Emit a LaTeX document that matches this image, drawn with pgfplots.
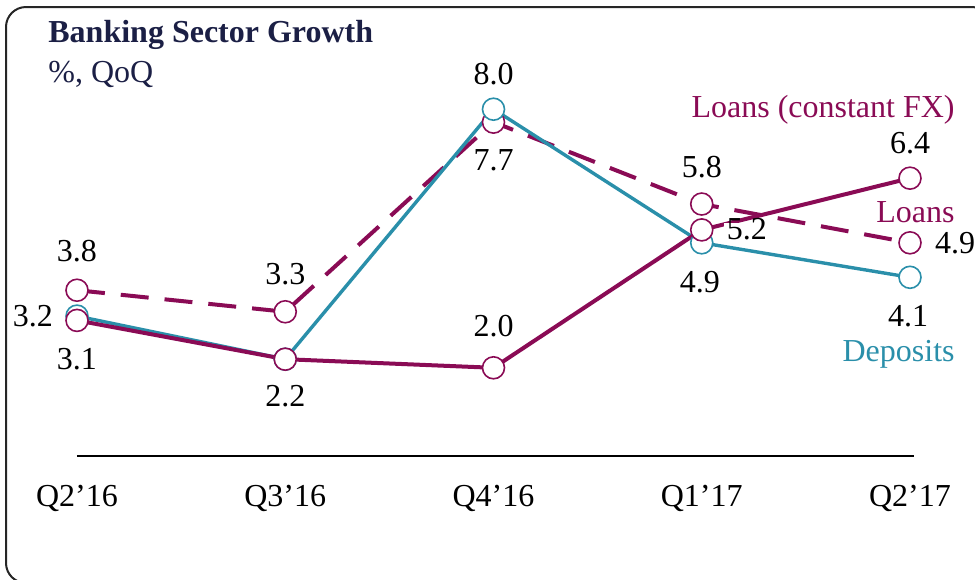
\documentclass[border=0pt]{standalone}
\usepackage{fontspec}
\setmainfont{Liberation Serif}
\usepackage{pgfplots}
\usepackage{pgfplotstable}
\pgfplotsset{compat=1.18}

\definecolor{loan}{HTML}{8A0B55}
\definecolor{dep}{HTML}{2A8FAA}
\definecolor{navy}{HTML}{1B1F45}

% x: 0 = Q2'16 ... 4 = Q2'17
\pgfplotstableread{
x loans fx dep
0 3.1 3.8 3.2
1 2.2 3.3 2.2
2 2.0 7.7 8.0
3 5.2 5.8 4.9
4 6.4 4.9 4.1
}\growth

\tikzset{val/.style={fill=white, inner xsep=1.5pt, inner ysep=1.5pt,
  text height=0.68em, text depth=0pt, text=black}}

\begin{document}
\begin{tikzpicture}[every node/.append style={font=\fontsize{16}{19}\selectfont}]
\path[use as bounding box, clip] (0,0) rectangle (487.5pt,-289.5pt);
\draw[line width=1pt, rounded corners=10pt, black!85] (3pt,-3.5pt) rectangle (496pt,-291.5pt);
\node[anchor=base west, inner sep=0pt, font=\fontsize{16}{19}\selectfont\bfseries, text=navy] at (24pt,-21pt) {Banking Sector Growth};
\node[anchor=base west, inner sep=0pt, text=navy] at (24pt,-41pt) {\%, QoQ};

\begin{axis}[
    at={(38.5pt,-227pt)}, anchor=origin,
    x=104.125pt, y=21.55pt,
    xmin=0, xmax=4.02, ymin=-0.05, ymax=9,
    hide y axis,
    axis x line*=bottom,
    x axis line style={-, line width=1pt, black},
    xtick={0,1,2,3,4},
    xticklabels={Q2'16,Q3'16,Q4'16,Q1'17,Q2'17},
    xtick style={draw=none},
    xticklabel style={anchor=base, yshift=-25pt, text=black},
    clip=false,
]
\addplot[loan, line width=2pt, dash pattern=on 14pt off 8pt,
  mark=*, mark size=5.5pt, mark options={solid, fill=white, draw=loan, line width=0.8pt}]
  table[x=x, y=fx] {\growth};
\addplot[dep, line width=1.7pt,
  mark=*, mark size=5.5pt, mark options={fill=white, draw=dep, line width=0.8pt}]
  table[x=x, y=dep] {\growth};
\addplot[loan, line width=2pt,
  mark=*, mark size=5.5pt, mark options={fill=white, draw=loan, line width=0.8pt}]
  table[x=x, y=loans] {\growth};

\node[val] at ([shift={(0pt,18pt)}]axis cs:0,3.8) {3.8};
\node[val] at ([shift={(-22pt,-2pt)}]axis cs:0,3.2) {3.2};
\node[val] at ([shift={(0pt,-21pt)}]axis cs:0,3.1) {3.1};
\node[val] at ([shift={(0pt,17pt)}]axis cs:1,3.3) {3.3};
\node[val] at ([shift={(0pt,-20.5pt)}]axis cs:1,2.2) {2.2};
\node[val] at ([shift={(0pt,16pt)}]axis cs:2,8.0) {8.0};
\node[val] at ([shift={(0pt,-21pt)}]axis cs:2,7.7) {7.7};
\node[val] at ([shift={(0pt,19pt)}]axis cs:2,2.0) {2.0};
\node[val] at ([shift={(0pt,16.5pt)}]axis cs:3,5.8) {5.8};
\node[val] at ([shift={(22.5pt,-1.5pt)}]axis cs:3,5.2) {5.2};
\node[val] at ([shift={(-1pt,-21.5pt)}]axis cs:3,4.9) {4.9};
\node[val] at ([shift={(0pt,15.5pt)}]axis cs:4,6.4) {6.4};
\node[val] at ([shift={(22.5pt,-2pt)}]axis cs:4,4.9) {4.9};
\node[val] at ([shift={(-1pt,-21pt)}]axis cs:4,4.1) {4.1};
\end{axis}

\node[anchor=base east, inner sep=0pt, text=loan] at (477.5pt,-58.5pt) {Loans (constant FX)};
\node[anchor=base east, inner sep=0pt, text=loan] at (477.5pt,-111pt) {Loans};
\node[anchor=base east, inner sep=0pt, text=dep] at (477.5pt,-180.5pt) {Deposits};
\end{tikzpicture}
\end{document}
